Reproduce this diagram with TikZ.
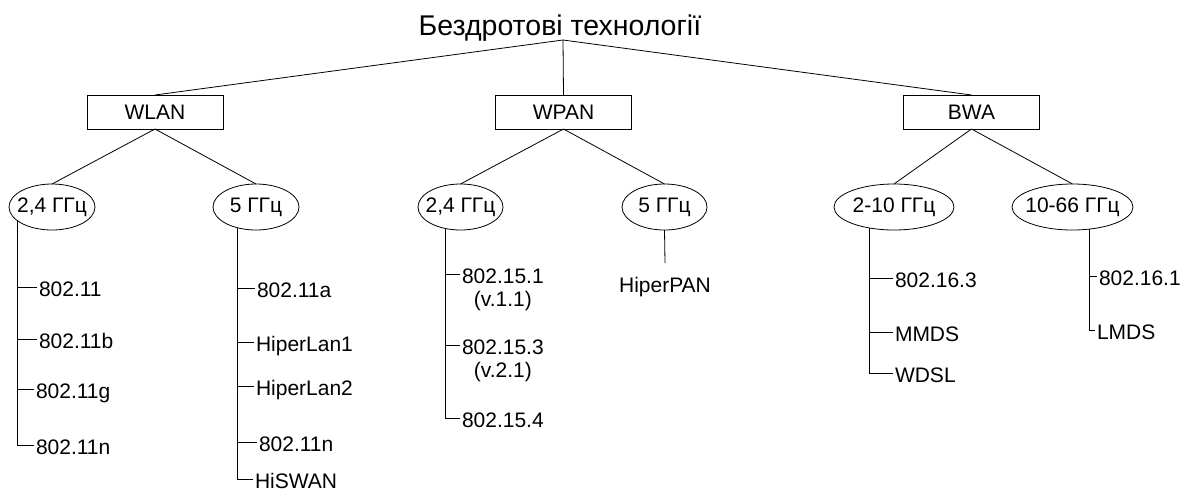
\documentclass[tikz,border=0pt]{standalone}
\usepackage{fontspec}
\setmainfont{Liberation Sans}
\usetikzlibrary{shapes}

% text of a band ellipse, so the ellipse keeps its own size
\newcommand{\fq}[1]{\makebox[0pt]{#1}}

\begin{document}
\begin{tikzpicture}[x=1pt,y=-1pt,line width=0.8pt,
	font=\fontsize{21}{25}\selectfont,
	group/.style={draw, rectangle, minimum width=136pt, minimum height=34pt, outer sep=0pt},
	band/.style={draw, ellipse, minimum height=46pt, inner sep=0pt, outer sep=0pt},
	std/.style={anchor=west, inner sep=2pt, outer sep=0pt, text height=19pt, text depth=0pt},
	ver/.style={label={[label distance=2pt]below:#1}}]
	\useasboundingbox (0,0) rectangle (1186,491);

	\node[anchor=base, font=\fontsize{28.5}{34}\selectfont] (root) at (560,35) {Бездротові технології};
	\coordinate (rj) at (563,40);

	\node[group] (wlan) at (155,112) {WLAN};
	\node[group] (wpan) at (563.5,112) {WPAN};
	\node[group] (bwa) at (971.5,112) {BWA};
	\draw (rj) -- (wlan.north);
	\draw (rj) -- (wpan.north);
	\draw (rj) -- (bwa.north);

	\node[band, minimum width=86pt] (wl24) at (52,207) {\fq{2,4 ГГц}};
	\node[band, minimum width=86pt] (wl5) at (256,207) {\fq{5 ГГц}};
	\node[band, minimum width=85pt] (wp24) at (460.5,207) {\fq{2,4 ГГц}};
	\node[band, minimum width=85pt] (wp5) at (664.5,207) {\fq{5 ГГц}};
	\node[band, minimum width=120pt] (bw210) at (894,207) {\fq{2-10 ГГц}};
	\node[band, minimum width=121pt] (bw1066) at (1072.5,207) {\fq{10-66 ГГц}};
	\draw (wlan.south) -- (wl24.north);
	\draw (wlan.south) -- (wl5.north);
	\draw (wpan.south) -- (wp24.north);
	\draw (wpan.south) -- (wp5.north);
	\draw (bwa.south) -- (bw210.north);
	\draw (bwa.south) -- (bw1066.north);

	% WLAN, 2,4 GHz
	\coordinate (ta) at (wl24.202);
	\node[std] (a1) at (37,287) {802.11};
	\node[std] (a2) at (37,339) {802.11b};
	\node[std] (a3) at (34,389) {802.11g};
	\node[std] (a4) at (34,445) {802.11n};
	\draw (ta) |- (a4.west);
	\draw (ta |- a1.west) -- (a1.west);
	\draw (ta |- a2.west) -- (a2.west);
	\draw (ta |- a3.west) -- (a3.west);

	% WLAN, 5 GHz
	\coordinate (tb) at (wl5.229);
	\node[std] (b1) at (255,288) {802.11a};
	\node[std] (b2) at (254,342) {HiperLan1};
	\node[std] (b3) at (254,386) {HiperLan2};
	\node[std] (b4) at (257,442) {802.11n};
	\node[std] (b5) at (253,479) {HiSWAN};
	\draw (tb) |- (b5.west);
	\draw (tb |- b1.west) -- (b1.west);
	\draw (tb |- b2.west) -- (b2.west);
	\draw (tb |- b3.west) -- (b3.west);
	\draw (tb |- b4.west) -- (b4.west);

	% WPAN
	\coordinate (tc) at (wp24.234);
	\node[std, ver=(v.1.1)] (c1) at (460,274) {802.15.1};
	\node[std, ver=(v.2.1)] (c2) at (460,345) {802.15.3};
	\node[std] (c3) at (460,418) {802.15.4};
	\draw (tc) |- (c3.west);
	\draw (tc |- c1.west) -- (c1.west);
	\draw (tc |- c2.west) -- (c2.west);

	\node[anchor=north, inner xsep=2pt, inner ysep=14pt, text height=15pt, outer sep=0pt] (d1) at (665,263) {HiperPAN};
	\draw (wp5.south) -- (d1.north);

	% BWA, 2-10 GHz
	\coordinate (te) at (bw210.220);
	\node[std] (e1) at (893,278) {802.16.3};
	\node[std] (e2) at (893,332) {MMDS};
	\node[std] (e3) at (893,373) {WDSL};
	\draw (te) |- (e3.west);
	\draw (te |- e1.west) -- (e1.west);
	\draw (te |- e2.west) -- (e2.west);

	% BWA, 10-66 GHz
	\coordinate (tf) at (bw1066.308);
	\node[std] (f1) at (1097,276) {802.16.1};
	\node[std] (f2) at (1095,330) {LMDS};
	\draw (tf) |- (f2.west);
	\draw (tf |- f1.west) -- (f1.west);
\end{tikzpicture}
\end{document}
